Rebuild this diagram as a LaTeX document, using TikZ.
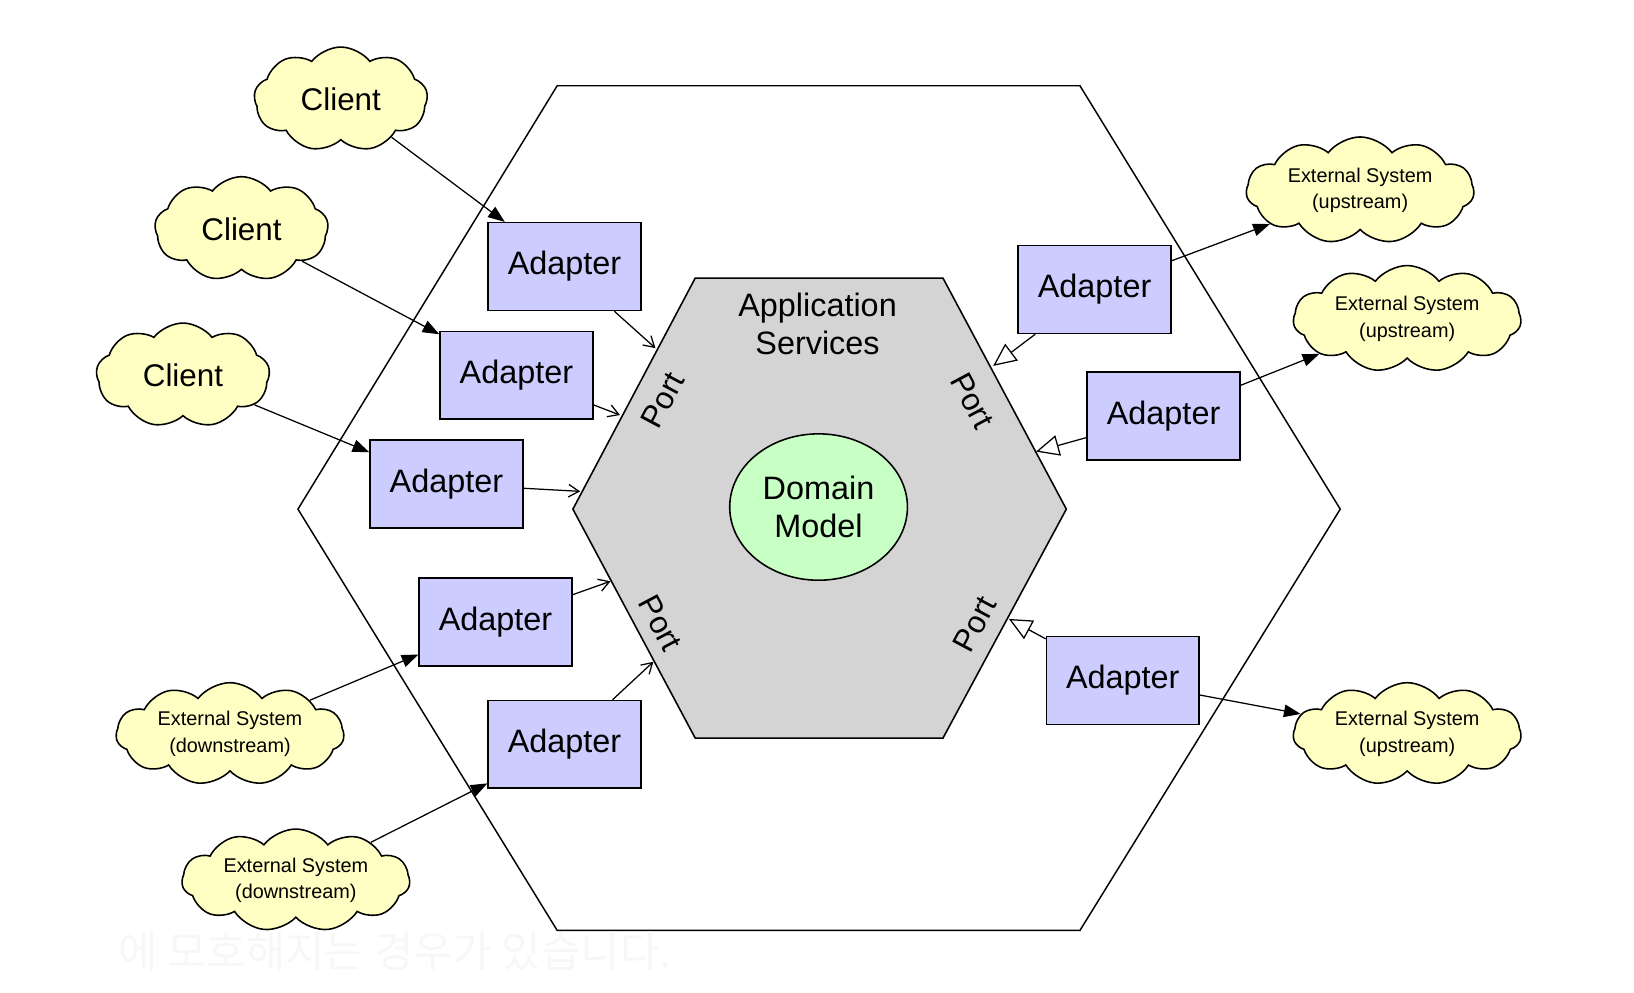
\documentclass[tikz,border=0pt]{standalone}
\usepackage{fontspec}
\setmainfont{Liberation Sans}
\newfontfamily\krfont{Noto Sans CJK KR}
\usepackage{tikz}
\usetikzlibrary{shapes.geometric, shapes.symbols, arrows.meta, positioning}
\definecolor{adapterblue}{RGB}{204,204,255}
\definecolor{cloudyellow}{RGB}{255,255,196}
\definecolor{domaingreen}{RGB}{200,255,196}
\definecolor{coregray}{RGB}{212,212,212}
\definecolor{ghostgray}{RGB}{247,247,247}

\begin{document}
\begin{tikzpicture}[x=0.5pt, y=-0.5pt,
    adapter/.style={rectangle, draw, line width=0.75pt, fill=adapterblue, minimum width=73pt, minimum height=42pt, font=\fontsize{15.5}{18}\selectfont},
    client/.style={cloud, cloud puffs=9, cloud puff arc=105, cloud ignores aspect, draw, line width=0.75pt, fill=cloudyellow, minimum width=83pt, minimum height=50pt, inner sep=0pt, font=\fontsize{15}{18}\selectfont},
    extsys/.style={client, cloud puffs=11, minimum width=109pt, minimum height=49pt, align=center, font=\fontsize{9.5}{12.5}\selectfont},
    port/.style={font=\fontsize{15}{18}\selectfont},
    call/.style={-{Triangle[length=8pt, width=6pt]}, line width=0.6pt},
    use/.style={-{Straight Barb[length=5pt, width=6pt]}, line width=0.6pt},
    impl/.style={-{Triangle[open, length=11pt, width=10pt]}, line width=0.6pt}]
    \useasboundingbox (0,0) rectangle (1563,949);

    % Hexagons
    \draw[line width=0.7pt] (533,82) -- (1033,82) -- (1282,487) -- (1033,890) -- (533,890) -- (285,487) -- cycle;
    \draw[line width=0.75pt, fill=coregray] (665,266) -- (902,266) -- (1020,487) -- (902,706) -- (665,706) -- (548,487) -- cycle;

    % Core
    \node[align=center, font=\fontsize{15.5}{18}\selectfont] (appsvc) at (782,310) {Application\\Services};
    \node[ellipse, draw, line width=0.75pt, fill=domaingreen, minimum width=85pt, minimum height=70pt, align=center, font=\fontsize{15.5}{18}\selectfont] (domain) at (783,485) {Domain\\Model};

    % Ports
    \node[port, rotate=62] (portul) at (634,383) {Port};
    \node[port, rotate=-62] (portur) at (930,383) {Port};
    \node[port, rotate=-62] (portll) at (632,596) {Port};
    \node[port, rotate=62] (portlr) at (932,597) {Port};
    \coordinate (pa1) at (627,333);
    \coordinate (pa2) at (593,397);
    \coordinate (pa3) at (555,470);
    \coordinate (pa4) at (584,556);
    \coordinate (pa5) at (625,633);
    \coordinate (pr1) at (950,350);
    \coordinate (pr2) at (991,432);
    \coordinate (pr3) at (965,592);

    % Adapters
    \node[adapter] (a1) at (540,255) {Adapter};
    \node[adapter] (a2) at (494,359) {Adapter};
    \node[adapter] (a3) at (427,463) {Adapter};
    \node[adapter] (a4) at (474,595) {Adapter};
    \node[adapter] (a5) at (540,712) {Adapter};
    \node[adapter] (a6) at (1047,277) {Adapter};
    \node[adapter] (a7) at (1113,398) {Adapter};
    \node[adapter] (a8) at (1074,651) {Adapter};

    % Clients and external systems
    \node[client] (c1) at (326,95) {Client};
    \node[client] (c2) at (231,219) {Client};
    \node[client] (c3) at (175,359) {Client};
    \node[extsys] (down1) at (220,702) {External System\\(downstream)};
    \node[extsys] (down2) at (283,842) {External System\\(downstream)};
    \node[extsys, minimum height=51pt] (up1) at (1301,182) {External System\\(upstream)};
    \node[extsys, minimum height=51pt] (up2) at (1346,305) {External System\\(upstream)};
    \node[extsys] (up3) at (1346,702) {External System\\(upstream)};

    % Arrows
    \draw[call] (c1) -- (a1);
    \draw[call] (c2) -- (a2);
    \draw[call] (c3) -- (a3);
    \draw[call] (down1) -- (a4);
    \draw[call] (down2) -- (a5);
    \draw[call] (a6) -- (up1);
    \draw[call] (a7) -- (up2);
    \draw[call] (a8) -- (up3);

    \draw[use] (a1) -- (pa1);
    \draw[use] (a2) -- (pa2);
    \draw[use] (a3) -- (pa3);
    \draw[use] (a4) -- (pa4);
    \draw[use] (a5) -- (pa5);

    \draw[impl] (a6) -- (pr1);
    \draw[impl] (a7) -- (pr2);
    \draw[impl] (a8) -- (pr3);

    % Page text
    \node[anchor=west, text=ghostgray, font=\krfont\fontsize{20.5}{24}\selectfont] (note) at (106,910) {에 모호해지는 경우가 있습니다.};
\end{tikzpicture}
\end{document}
